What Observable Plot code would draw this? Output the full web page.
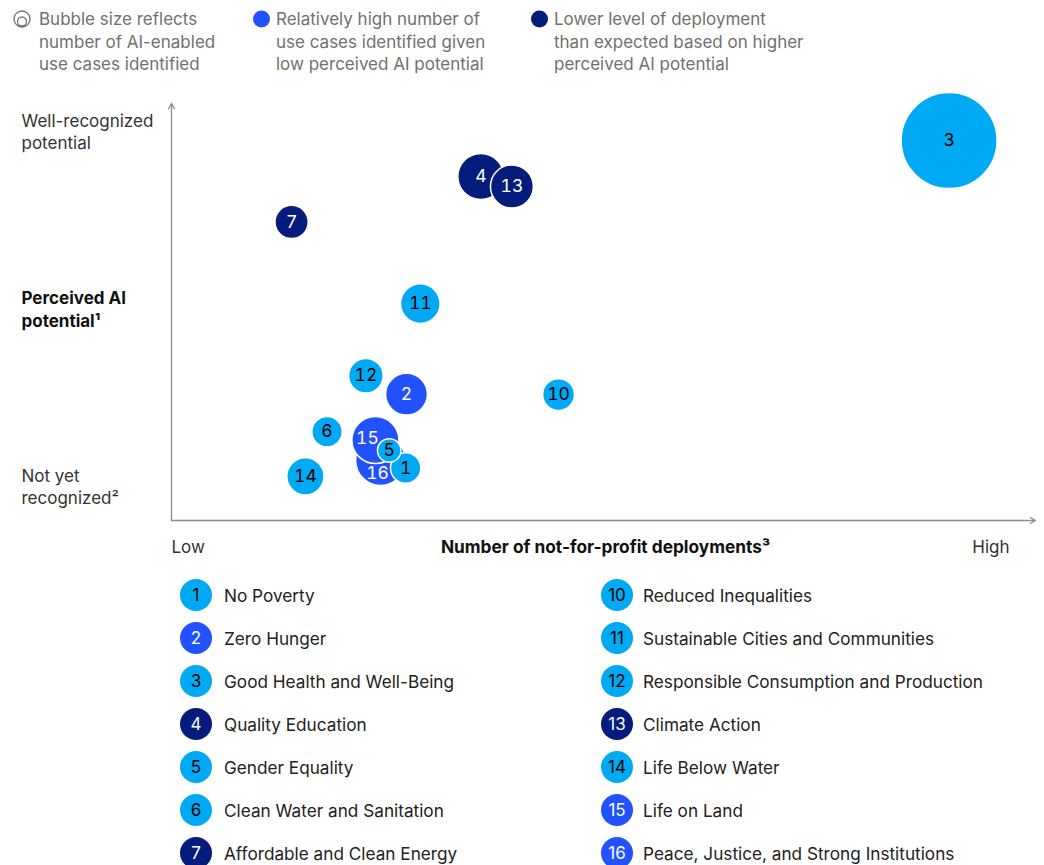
<!DOCTYPE html>
<html><head><meta charset="utf-8">
<script src="https://cdn.jsdelivr.net/npm/d3@7"></script>
<script src="https://cdn.jsdelivr.net/npm/@observablehq/plot@0.6"></script>
<style>
body{margin:0;background:#fff;font-family:Inter,"Liberation Sans",Arial,sans-serif;}
#page{position:relative;width:1044px;height:865px;overflow:hidden;background:#fff;}
.tl-text{position:absolute;top:8px;font-size:17px;line-height:22.5px;color:#707070;white-space:pre;}
.tl-icon{position:absolute;top:10px;}
#chart{position:absolute;left:0;top:90px;}
.lg-row{position:absolute;height:43px;display:flex;align-items:center;font-size:17.2px;color:#222;white-space:nowrap;}
.lg-dot{width:32px;height:32px;border-radius:50%;display:flex;align-items:center;justify-content:center;font-size:17px;margin-right:12px;}
</style>
</head><body>
<div id="page"></div>
<script>
// ---- data ----
const goalIds = [1,2,3,4,5,6,7,10,11,12,13,14,15,16];
const goalNames = ["No Poverty","Zero Hunger","Good Health and Well-Being","Quality Education","Gender Equality","Clean Water and Sanitation","Affordable and Clean Energy","Reduced Inequalities","Sustainable Cities and Communities","Responsible Consumption and Production","Climate Action","Life Below Water","Life on Land","Peace, Justice, and Strong Institutions"];
const goalGroups = ["light","blue","light","navy","light","light","navy","light","light","light","navy","light","blue","blue"];

const bubbleIds   = [3,7,11,12,2,10,6,14,4,13,16,15,1,5];
const deployments = [90.0,13.9,28.8,22.5,27.2,44.8,18.0,15.5,35.8,39.4,24.2,23.6,27.1,25.2];
const potential   = [91.1,71.6,52.0,34.7,30.3,30.2,21.3,10.6,82.5,80.1,14.4,19.3,12.6,16.8];
const useCases    = [100,12,17,13,19,11,10,15,23,20,27,24,10,6];

const groupKeys = ["light","blue","navy"];
const groupColors = ["#00A9F4","#2251FF","#051C7C"];
const groupTextColors = ["#000000","#ffffff","#ffffff"];

const topLegendTexts = ["Bubble size reflects\nnumber of AI-enabled\nuse cases identified","Relatively high number of\nuse cases identified given\nlow perceived AI potential","Lower level of deployment\nthan expected based on higher\nperceived AI potential"];
const topLegendGroups = [null,"blue","navy"];

const yLabels = ["Well-recognized\npotential","Perceived AI\npotential\u00B9","Not yet\nrecognized\u00B2"];
const xLabels = ["Low","Number of not-for-profit deployments\u00B3","High"];

const xDomain = [0,100];
const yDomain = [0,100];

// ---- build ----
const page = document.getElementById("page");
const colorOf = g => groupColors[groupKeys.indexOf(g)];
const textColorOf = g => groupTextColors[groupKeys.indexOf(g)];
const groupOf = id => goalGroups[goalIds.indexOf(id)];

// top legend
const topPos = [{icon:13,text:39},{icon:253,text:276},{icon:531,text:554}];
topLegendTexts.forEach((t,i)=>{
  const ic = document.createElement("div");
  ic.className="tl-icon"; ic.style.left=topPos[i].icon+"px";
  if(topLegendGroups[i]===null){
    ic.innerHTML='<svg width="18" height="18"><circle cx="9" cy="9" r="8" fill="none" stroke="#707070" stroke-width="1.3"/><circle cx="9" cy="11.5" r="4.5" fill="none" stroke="#707070" stroke-width="1.3"/></svg>';
  } else {
    ic.innerHTML='<svg width="18" height="18"><circle cx="8.5" cy="9" r="8.5" fill="'+colorOf(topLegendGroups[i])+'"/></svg>';
  }
  page.appendChild(ic);
  const tx = document.createElement("div");
  tx.className="tl-text"; tx.style.left=topPos[i].text+"px"; tx.textContent=t;
  page.appendChild(tx);
});

// chart
const bubbles = bubbleIds.map((id,i)=>({id, x:deployments[i], y:potential[i], size:useCases[i], group:groupOf(id)}));
const axes = [
  {x1:xDomain[0], y1:yDomain[0], x2:xDomain[0], y2:yDomain[1]},
  {x1:xDomain[0], y1:yDomain[0], x2:xDomain[1], y2:yDomain[0]}
];
const labelNudge = {15:[-8,-2],16:[-3,13]};
const font = 'Inter,"Liberation Sans",Arial,sans-serif';

const chart = Plot.plot({
  width:1044, height:475,
  marginLeft:171, marginRight:9, marginTop:13, marginBottom:45,
  x:{domain:xDomain, axis:null},
  y:{domain:yDomain, axis:null},
  r:{type:"sqrt", domain:[0,100], range:[0,48]},
  color:{domain:groupKeys, range:groupColors},
  style:{fontFamily:font, background:"transparent", overflow:"visible"},
  marks:[
    Plot.arrow(axes, {x1:"x1", y1:"y1", x2:"x2", y2:"y2", stroke:"#8c8c8c", strokeWidth:1.3, headLength:7, insetStart:0, insetEnd:0}),
    Plot.dot(bubbles, {x:"x", y:"y", r:"size", fill:"group", stroke:"white", strokeWidth:1.5, sort:null}),
    Plot.text(bubbles, {x:"x", y:"y", text:"id", fontSize:17.5,
      fill: d => textColorOf(d.group) === "#000000" ? "#000" : "#fff"}),
    Plot.text([yLabels[0]], {frameAnchor:"top-left", text:d=>d, textAnchor:"start", lineAnchor:"top", dx:-150, dy:8, fontSize:17, fill:"#333", lineHeight:1.3}),
    Plot.text([yLabels[1]], {frameAnchor:"left", text:d=>d, textAnchor:"start", lineAnchor:"middle", dx:-150, dy:-4, fontSize:17, fill:"#111", fontWeight:"bold", lineHeight:1.35}),
    Plot.text([yLabels[2]], {frameAnchor:"bottom-left", text:d=>d, textAnchor:"start", lineAnchor:"bottom", dx:-150, dy:-17, fontSize:17, fill:"#333", lineHeight:1.25}),
    Plot.text([xLabels[0]], {frameAnchor:"bottom-left", text:d=>d, textAnchor:"start", dy:32, fontSize:17, fill:"#333"}),
    Plot.text([xLabels[1]], {frameAnchor:"bottom", text:d=>d, textAnchor:"middle", dy:32, dx:2, fontSize:17.3, fill:"#111", fontWeight:"bold"}),
    Plot.text([xLabels[2]], {frameAnchor:"bottom-right", text:d=>d, textAnchor:"end", dx:-26, dy:32, fontSize:17, fill:"#333"})
  ]
});
chart.id="chart";
page.appendChild(chart);
// nudge overlapping labels (15, 16)
const textGroups = chart.querySelectorAll('g[aria-label="text"]');
if(textGroups.length){
  const tg = textGroups[0];
  tg.querySelectorAll("text").forEach((el,i)=>{
    const n = labelNudge[bubbles[i].id];
    if(n){
      const tr = el.getAttribute("transform")||"";
      el.setAttribute("transform", tr + " translate("+n[0]+","+n[1]+")");
    }
  });
}

// bottom legend
const half = 7;
goalIds.forEach((id,i)=>{
  const col = i < half ? 0 : 1;
  const row = i < half ? i : i - half;
  const r = document.createElement("div");
  r.className="lg-row";
  r.style.left = (col===0 ? 180 : 601) + "px";
  r.style.top = (573.5 + row*43) + "px";
  const d = document.createElement("div");
  d.className="lg-dot";
  d.style.background = colorOf(goalGroups[i]);
  d.style.color = textColorOf(goalGroups[i]);
  if(col===1) d.style.marginRight="10px";
  d.textContent = id;
  r.appendChild(d);
  const s = document.createElement("span");
  s.textContent = goalNames[i];
  r.appendChild(s);
  page.appendChild(r);
});
</script>
</body></html>
